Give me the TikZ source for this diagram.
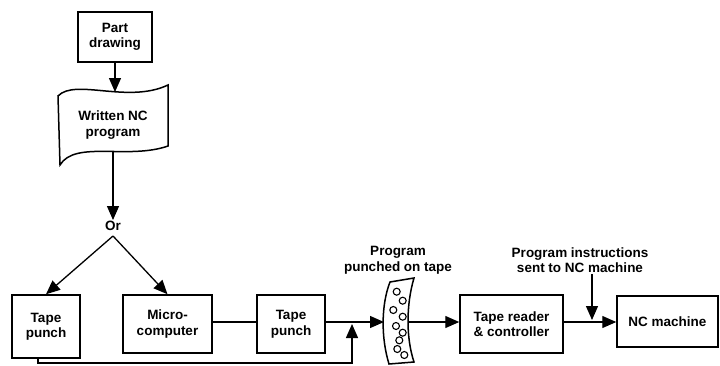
\documentclass[tikz,border=0pt]{standalone}
\usepackage{fontspec}
\setmainfont{Liberation Sans}
\usetikzlibrary{arrows.meta}
\tikzset{
  box/.style={draw, line width=1.5pt, align=center, inner sep=0pt, font=\fontsize{13.5}{15.5}\selectfont\bfseries},
  lbl/.style={align=center, inner sep=1pt, font=\fontsize{13.5}{15.5}\selectfont\bfseries},
  conn/.style={line width=1.3pt},
  arr/.style={conn, -{Triangle[length=14pt,width=12pt]}},
  hole/.style={line width=1.1pt}
}
\begin{document}
\begin{tikzpicture}[x=1pt,y=-1pt]
\useasboundingbox (0,0) rectangle (720,365);
\coordinate (mainline) at (0,322);
% Part drawing
\node[box, minimum width=74, minimum height=50] (part) at (115,37) {Part\\drawing};
% Written NC program (tape shape)
\draw[line width=1.5pt] (58,96) .. controls (75,78) and (128,104) .. (168,85)
  -- (168,146) .. controls (128,160) and (75,140) .. (60,165) -- cycle;
\node[lbl] (wnc) at (113,125) {Written NC\\program};
\coordinate (wtop) at (115,92);
\coordinate (wbot) at (113,152);
\draw[arr] (part.south) -- (wtop);
% Or
\node[lbl] (or) at (113,226) {Or};
\coordinate (orb) at (113,236);
\draw[arr] (wbot) -- (or.north);
% Boxes
\node[box, minimum width=68, minimum height=63] (tp1) at (46,326.5) {Tape\\punch};
\node[box, minimum width=89, minimum height=58] (mc) at (167.5,324) {Micro-\\computer};
\node[box, minimum width=68, minimum height=58] (tp2) at (291,324) {Tape\\punch};
\node[box, minimum width=103, minimum height=58] (rd) at (511.5,324) {Tape reader\\\&\ controller};
\node[box, minimum width=101, minimum height=51] (nc) at (667.5,321.5) {NC machine};
\draw[arr] (orb) -- (tp1.north);
\draw[arr] (orb) -- (mc.north);
% Punched tape strip
\draw[line width=1.5pt] (390,282) -- (414,278)
  .. controls (406,305) and (406,338) .. (414,362) -- (389,364)
  .. controls (381,338) and (381,305) .. (390,282) -- cycle;
\foreach \p in {(396.7,291.7),(402.7,300.7),(393.3,310),(402.7,316.7),(396,326),(402.7,332.7),(399.3,340.3),(397.3,349),(404.3,355)}
  \draw[hole] \p circle (3.5);
\coordinate (stripL) at (384,322);
\coordinate (stripR) at (409,322);
\node[lbl] (ppt) at (398,260) {Program\\punched on tape};
% Connectors along main line
\draw[conn] (mc.east |- mainline) -- (tp2.west |- mainline);
\draw[arr] (tp2.east |- mainline) -- (stripL);
\draw[arr] (stripR) -- (rd.west |- mainline);
\draw[arr] (rd.east |- mainline) -- (nc.west |- mainline);
% Feedback from left tape punch
\coordinate (join) at (352,324);
\draw[arr] ([xshift=-8pt]tp1.south) |- (join |- 0,363) -- (join);
% Program instructions
\node[lbl] (pi) at (580,260) {Program instructions\\sent to NC machine};
\coordinate (pin) at (592,320);
\draw[arr] (pin |- pi.south) -- (pin);
\end{tikzpicture}
\end{document}
